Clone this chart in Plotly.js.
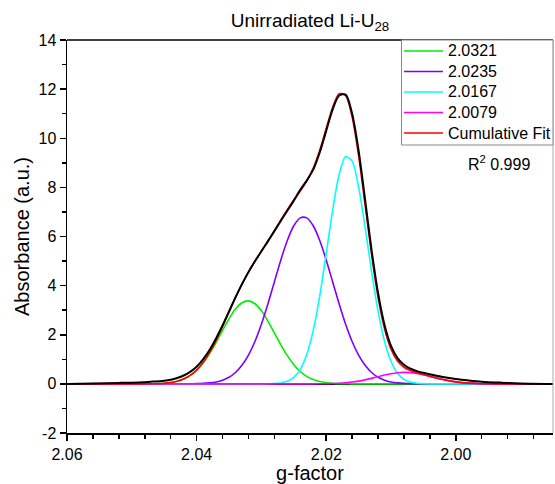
<!DOCTYPE html>
<html>
<head>
<meta charset="utf-8">
<script src="https://cdn.plot.ly/plotly-3.0.1.min.js"></script>
<style>html,body{margin:0;padding:0;background:#fff;}#chart{width:555px;height:484px;}</style>
</head>
<body>
<div id="chart"></div>
<script>
const gFactor = [2.060, 2.056, 2.052, 2.049, 2.047,
  2.045, 2.044, 2.043, 2.042, 2.041, 2.040, 2.039, 2.038, 2.037, 2.036,
  2.035, 2.034, 2.033, 2.032, 2.031, 2.030, 2.029, 2.028, 2.027, 2.026,
  2.025, 2.024, 2.023, 2.022, 2.021, 2.020, 2.019, 2.018, 2.017, 2.016,
  2.015, 2.014, 2.013, 2.012, 2.011, 2.010, 2.009, 2.008, 2.007, 2.006,
  2.005, 2.004, 2.003, 2.002,
  2.000, 1.998, 1.996, 1.993, 1.990, 1.985];

const peak20321 = [0, 0, 0, 0.001, 0.005,
  0.027, 0.055, 0.108, 0.196, 0.339, 0.552, 0.849, 1.231, 1.683, 2.173,
  2.648, 3.044, 3.302, 3.379, 3.263, 2.974, 2.557, 2.075, 1.589, 1.148,
  0.783, 0.504, 0.305, 0.175, 0.095, 0.048, 0.023, 0.011, 0.005, 0.002,
  0, 0, 0, 0, 0, 0, 0, 0, 0, 0,
  0, 0, 0, 0,
  0, 0, 0, 0, 0, 0];

const peak20235 = [0, 0, 0, 0, 0,
  0, 0, 0.001, 0.002, 0.004, 0.009, 0.020, 0.041, 0.080, 0.151,
  0.271, 0.464, 0.754, 1.170, 1.727, 2.429, 3.254, 4.151, 5.045, 5.839,
  6.437, 6.759, 6.759, 6.437, 5.839, 5.045, 4.151, 3.254, 2.429, 1.727,
  1.170, 0.754, 0.464, 0.271, 0.151, 0.080, 0.041, 0.020, 0.009, 0.004,
  0.002, 0.001, 0, 0,
  0, 0, 0, 0, 0, 0];

const peak20167 = [0, 0, 0, 0, 0,
  0, 0, 0, 0, 0, 0, 0, 0, 0, 0,
  0, 0, 0, 0, 0, 0.001, 0.004, 0.013, 0.039, 0.106,
  0.264, 0.592, 1.195, 2.177, 3.575, 5.296, 7.075, 8.522, 9.257, 9.067,
  8.009, 6.380, 4.582, 2.968, 1.733, 0.913, 0.434, 0.186, 0.072, 0.025,
  0.008, 0.002, 0.001, 0,
  0, 0, 0, 0, 0, 0];

const peak20079 = [0, 0, 0, 0, 0,
  0, 0, 0, 0, 0, 0, 0, 0, 0, 0,
  0, 0, 0, 0, 0, 0, 0, 0, 0, 0,
  0, 0, 0.001, 0.002, 0.004, 0.007, 0.014, 0.026, 0.045, 0.073,
  0.113, 0.164, 0.225, 0.292, 0.358, 0.415, 0.454, 0.470, 0.459, 0.424,
  0.370, 0.305, 0.238, 0.175,
  0.080, 0.029, 0.008, 0.001, 0, 0];

const cumulativeFit = [0, 0, 0, 0.001, 0.005,
  0.027, 0.055, 0.109, 0.198, 0.343, 0.561, 0.869, 1.272, 1.763, 2.324,
  2.919, 3.508, 4.056, 4.549, 4.990, 5.404, 5.815, 6.239, 6.673, 7.093,
  7.484, 7.855, 8.260, 8.791, 9.513, 10.396, 11.263, 11.813, 11.736, 10.869,
  9.292, 7.298, 5.271, 3.531, 2.242, 1.408, 0.929, 0.676, 0.540, 0.453,
  0.380, 0.308, 0.239, 0.175,
  0.080, 0.029, 0.008, 0.001, 0, 0];

const measured = [0, 0.02, 0.04, 0.06, 0.09,
  0.13, 0.17, 0.24, 0.34, 0.49, 0.70, 1.00, 1.38, 1.85, 2.38,
  2.95, 3.52, 4.06, 4.55, 4.99, 5.40, 5.80, 6.22, 6.64, 7.05,
  7.46, 7.90, 8.28, 8.72, 9.42, 10.30, 11.18, 11.74, 11.78, 11.00,
  9.50, 7.50, 5.45, 3.70, 2.40, 1.55, 1.05, 0.78, 0.62, 0.52,
  0.45, 0.39, 0.33, 0.28,
  0.20, 0.14, 0.09, 0.05, 0.02, 0];

const seriesNames = ['2.0321', '2.0235', '2.0167', '2.0079', 'Cumulative Fit'];
const seriesColors = ['#00ee00', '#7f00ff', '#00ffff', '#ff00ff', '#ff0000'];
const seriesValues = [peak20321, peak20235, peak20167, peak20079, cumulativeFit];

const yTickVals = [-2, 0, 2, 4, 6, 8, 10, 12, 14];
const yTickText = ['-2', '0', '2', '4', '6', '8', '10', '12', '14'];
const xTickVals = [2.06, 2.04, 2.02, 2.00];
const xTickText = ['2.06', '2.04', '2.02', '2.00'];

const FONT = '"Liberation Sans", Arial, sans-serif';

const traces = seriesValues.map((vals, i) => ({
  x: gFactor, y: vals, type: 'scatter', mode: 'lines',
  name: seriesNames[i], showlegend: false,
  line: {color: seriesColors[i], width: 1.6, shape: 'spline', smoothing: 0.8}
}));
traces.push({
  x: gFactor, y: measured, type: 'scatter', mode: 'lines', showlegend: false,
  name: 'Data',
  line: {color: '#000000', width: 2, shape: 'spline', smoothing: 0.8}
});

// legend box drawn in paper coordinates
const L = 67, PW = 486, T = 40, PH = 393;
const px = v => (v - L) / PW;
const py = v => (T + PH - v) / PH;
const legendRows = [51, 71.5, 92, 112.5, 133];
const shapes = [
  {type: 'line', xref: 'paper', yref: 'paper', x0: 0, x1: 1, y0: 1, y1: 1, line: {color: '#000', width: 1.5}},
  {type: 'line', xref: 'paper', yref: 'paper', x0: 1, x1: 1, y0: 0, y1: 1, line: {color: '#aaaaaa', width: 1}},
  {type: 'rect', xref: 'paper', yref: 'paper', x0: px(401.5), x1: px(553), y0: py(145), y1: 1,
   fillcolor: '#ffffff', line: {color: '#888888', width: 1}, layer: 'above'}
];
const annotations = [
  {text: 'R<sup>2</sup> 0.999', xref: 'paper', yref: 'paper', x: px(499), y: py(163),
   xanchor: 'center', yanchor: 'middle', showarrow: false, font: {family: FONT, size: 16, color: '#000'}}
];
seriesNames.forEach((name, i) => {
  shapes.push({type: 'line', xref: 'paper', yref: 'paper', x0: px(404), x1: px(443),
    y0: py(legendRows[i]), y1: py(legendRows[i]), line: {color: seriesColors[i], width: 1.6}, layer: 'above'});
  annotations.push({text: name, xref: 'paper', yref: 'paper', x: px(446), y: py(legendRows[i]),
    xanchor: 'left', yanchor: 'middle', showarrow: false, font: {family: FONT, size: 16, color: '#000'}});
});

const layout = {
  width: 555, height: 484,
  margin: {l: 67, r: 2, t: 40, b: 51},
  paper_bgcolor: '#ffffff', plot_bgcolor: '#ffffff',
  font: {family: FONT, size: 16, color: '#000'},
  title: {text: 'Unirradiated Li-U<sub>28</sub>', font: {family: FONT, size: 19, color: '#000'},
          x: 0.5585, xanchor: 'center', y: 0.957, yanchor: 'middle'},
  showlegend: false,
  xaxis: {
    range: [2.06, 1.985], showgrid: false, zeroline: false,
    tickmode: 'array', tickvals: xTickVals, ticktext: xTickText,
    ticks: 'outside', ticklen: 6, tickwidth: 1.5, tickcolor: '#000',
    showline: true, linecolor: '#000', linewidth: 1.5, mirror: false,
    tickfont: {family: FONT, size: 16, color: '#000'},
    minor: {tickmode: 'linear', tick0: 2.0, dtick: 0.004, ticks: 'outside', ticklen: 4, tickwidth: 1.5, tickcolor: '#000'},
    title: {text: 'g-factor', font: {family: FONT, size: 20, color: '#000'}, standoff: 6}
  },
  yaxis: {
    range: [-2, 14], showgrid: false,
    zeroline: true, zerolinecolor: '#000', zerolinewidth: 1.5,
    tickmode: 'array', tickvals: yTickVals, ticktext: yTickText,
    ticks: 'outside', ticklen: 6, tickwidth: 1.5, tickcolor: '#000',
    showline: true, linecolor: '#000', linewidth: 1.5, mirror: false,
    tickfont: {family: FONT, size: 16, color: '#000'},
    minor: {tickmode: 'linear', tick0: 0, dtick: 1, ticks: 'outside', ticklen: 4, tickwidth: 1.5, tickcolor: '#000'},
    title: {text: 'Absorbance (a.u.)', font: {family: FONT, size: 20, color: '#000'}, standoff: 3}
  },
  shapes: shapes,
  annotations: annotations
};

Plotly.newPlot('chart', traces, layout, {displayModeBar: false, staticPlot: true});
</script>
</body>
</html>
